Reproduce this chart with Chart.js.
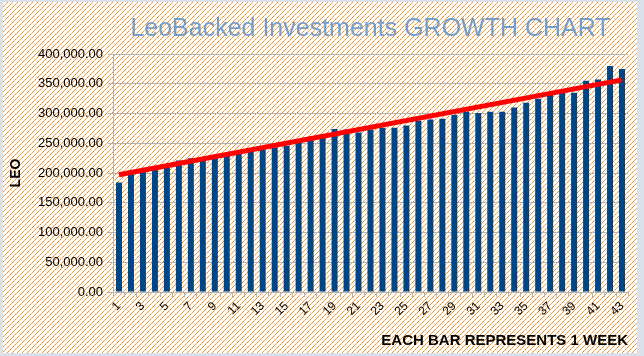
<!DOCTYPE html>
<html>
<head>
<meta charset="utf-8">
<script src="https://cdn.jsdelivr.net/npm/chart.js@4/dist/chart.umd.min.js"></script>
<style>
  html, body { margin: 0; padding: 0; }
  body { width: 644px; height: 356px; background: #dbe1ea; position: relative; overflow: hidden; }
  #wrap { position: absolute; left: 3px; top: 2px; width: 634px; height: 351px; background: #fff; }
  #c { display: block; }
</style>
</head>
<body>
<div id="wrap"><canvas id="c" width="634" height="351"></canvas></div>
<script>
// ---- data ----
const categories = ['1','2','3','4','5','6','7','8','9','10','11','12','13','14','15','16','17','18','19','20','21','22','23','24','25','26','27','28','29','30','31','32','33','34','35','36','37','38','39','40','41','42','43'];
const leoValues = [184000,198000,202000,207000,211000,221000,225000,227000,229000,232000,236000,238000,239000,243000,246000,252000,261000,265000,274000,273000,268000,273000,276000,276000,280000,288000,290000,291000,298000,303000,301000,303000,303000,310000,318000,325000,331000,336000,335000,355000,357000,380000,375000];
const trendLabels = ['1','43'];
const trendValues = [197000, 356500];
const yTickMin = 0;
const yTickMax = 400000;
const yTickStep = 50000;
const titleText = 'LeoBacked Investments GROWTH CHART';
const yTitleText = 'LEO';
const xTitleText = 'EACH BAR REPRESENTS 1 WEEK';

// ---- hatch background ----
(function () {
  const n = 5;
  const t = document.createElement('canvas');
  t.width = n; t.height = n;
  const g = t.getContext('2d');
  g.fillStyle = '#ffffff'; g.fillRect(0, 0, n, n);
  for (let i = 0; i < n; i++) {
    g.fillStyle = (i % 2 === 0) ? '#f28a12' : '#f7b060';
    g.fillRect(n - 1 - i, i, 1, 1);
  }
  document.getElementById('wrap').style.backgroundImage = 'url(' + t.toDataURL() + ')';
})();

const gridColor = '#b3b3b3';
const fontFamily = '"Liberation Sans", Arial, sans-serif';

new Chart(document.getElementById('c'), {
  data: {
    labels: categories,
    datasets: [
      {
        type: 'line',
        data: trendLabels.map((l, i) => ({ x: l, y: trendValues[i] })),
        borderColor: '#ff0000',
        borderWidth: 5,
        pointRadius: 0,
        tension: 0,
        order: 0
      },
      {
        type: 'bar',
        data: leoValues,
        backgroundColor: '#004586',
        borderWidth: 0,
        categoryPercentage: 1.0,
        barPercentage: 0.5,
        order: 1
      }
    ]
  },
  options: {
    responsive: false,
    animation: false,
    events: [],
    layout: { padding: { left: 0, right: 9, top: 0, bottom: 3 } },
    plugins: {
      legend: { display: false },
      tooltip: { enabled: false },
      title: {
        display: true,
        text: titleText,
        fullSize: false,
        color: '#729fcf',
        font: { family: fontFamily, size: 25, weight: 'normal', lineHeight: 1.2 },
        padding: { top: 12, bottom: 10 }
      }
    },
    scales: {
      x: {
        type: 'category',
        offset: true,
        grid: { display: true, drawOnChartArea: false, drawTicks: true, tickLength: 5, color: gridColor, offset: true },
        border: { display: true, color: gridColor },
        ticks: {
          autoSkip: false,
          maxRotation: 45,
          minRotation: 45,
          padding: 2,
          color: '#000',
          font: { family: fontFamily, size: 12 },
          callback: function (v, i) { return i % 2 === 0 ? categories[i] : ''; }
        },
        title: {
          display: true,
          text: xTitleText,
          align: 'end',
          color: '#000',
          font: { family: fontFamily, size: 15, weight: 'bold', lineHeight: 1.2 },
          padding: { top: 0, bottom: 0 }
        },
        afterFit: function (s) { s.height = 58; }
      },
      y: {
        min: yTickMin,
        max: yTickMax,
        grid: { color: gridColor, tickLength: 5, drawTicks: true },
        border: { display: true, color: gridColor },
        ticks: {
          stepSize: yTickStep,
          padding: 5,
          color: '#000',
          font: { family: fontFamily, size: 13 },
          callback: function (v) { return Number(v).toLocaleString('en-US', { minimumFractionDigits: 2, maximumFractionDigits: 2 }); }
        },
        title: {
          display: true,
          text: yTitleText,
          color: '#000',
          font: { family: fontFamily, size: 14, weight: 'bold', lineHeight: 1.2 },
          padding: { top: 5, bottom: 0 }
        },
        afterFit: function (s) { s.width = 110; }
      }
    }
  }
});
</script>
</body>
</html>
